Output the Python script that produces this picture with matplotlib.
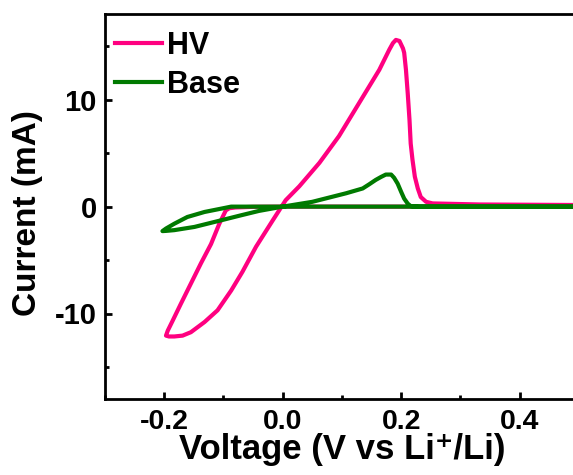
import matplotlib
matplotlib.use('Agg')
import matplotlib.pyplot as plt
from matplotlib.ticker import MultipleLocator

plt.rcParams['font.family'] = ['Liberation Sans', 'DejaVu Sans']
plt.rcParams['font.weight'] = 'bold'
plt.rcParams['axes.unicode_minus'] = False

# cyclic voltammetry, Li plating / stripping
hv_v = [0.50, 0.30, 0.10, 0.00, -0.05, -0.08, -0.090, -0.096, -0.107, -0.121,
        -0.138, -0.155, -0.172, -0.186, -0.194, -0.197, -0.192, -0.183, -0.169,
        -0.155, -0.132, -0.110, -0.087, -0.068, -0.045, -0.017, 0.005, 0.028,
        0.062, 0.095, 0.129, 0.163, 0.180, 0.186, 0.191, 0.197, 0.203, 0.205,
        0.208, 0.211, 0.214, 0.216, 0.219, 0.223, 0.228, 0.233, 0.242, 0.253,
        0.332, 0.50]
hv_i = [0.0, 0.0, 0.0, 0.0, -0.02, -0.08, -0.15, -0.35, -1.6, -3.5,
        -5.3, -7.2, -9.1, -10.7, -11.6, -12.07, -12.15, -12.15, -12.07,
        -11.75, -10.8, -9.7, -7.85, -6.1, -3.75, -1.3, 0.6, 1.9,
        4.1, 6.6, 9.7, 12.8, 14.7, 15.3, 15.6, 15.5, 14.8, 14.4,
        12.8, 10.6, 8.1, 5.9, 4.4, 2.8, 1.7, 0.9, 0.45, 0.3,
        0.2, 0.15]

base_v = [0.50, 0.30, 0.10, 0.00, -0.05, -0.087, -0.104, -0.132, -0.161, -0.183,
          -0.197, -0.203, -0.197, -0.183, -0.149, -0.104, -0.071, -0.040, 0.0,
          0.05, 0.107, 0.135, 0.146, 0.157, 0.166, 0.174, 0.183, 0.188, 0.194,
          0.200, 0.205, 0.211, 0.216, 0.23, 0.50]
base_i = [0.0, 0.0, 0.0, 0.0, 0.0, 0.0, -0.19, -0.5, -0.97, -1.6,
          -2.05, -2.29, -2.27, -2.2, -1.9, -1.28, -0.82, -0.4, 0.0,
          0.45, 1.25, 1.7, 2.09, 2.5, 2.78, 3.0, 3.0, 2.7, 2.15,
          1.37, 0.75, 0.28, 0.05, 0.0, 0.0]

fig = plt.figure(figsize=(5.73, 4.75), dpi=100)
ax = fig.add_axes([0.1832, 0.16, 0.8272, 0.81])

ax.plot(hv_v, hv_i, color='#FF0080', lw=3, label='HV', solid_joinstyle='round')
ax.plot(base_v, base_i, color='#007A00', lw=3, label='Base', solid_joinstyle='round')

ax.set_xlim(-0.3, 0.5)
ax.set_ylim(-18, 18)
ax.xaxis.set_major_locator(MultipleLocator(0.2))
ax.xaxis.set_minor_locator(MultipleLocator(0.1))
ax.yaxis.set_major_locator(MultipleLocator(10))
ax.yaxis.set_minor_locator(MultipleLocator(5))
ax.tick_params(which='both', direction='in', width=2, labelsize=21)
ax.tick_params(axis='x', labelsize=20.5, pad=7)
ax.tick_params(axis='y', pad=6)
ax.tick_params(which='major', length=5)
ax.tick_params(which='minor', length=3)
for s in ax.spines.values():
    s.set_linewidth(2)

ax.set_xlabel('Voltage (V vs Li\u207a/Li)', fontsize=25, fontweight='bold', labelpad=-1)
ax.set_ylabel('Current (mA)', fontsize=24, fontweight='bold')
ax.yaxis.set_label_coords(-0.131, 0.484)

ax.legend(loc='upper left', bbox_to_anchor=(0.021, 0.957), frameon=False, fontsize=22,
          handlelength=1.54, handletextpad=0.15, labelspacing=0.3,
          borderaxespad=0, borderpad=0)

fig.savefig('out.png', dpi=100)
